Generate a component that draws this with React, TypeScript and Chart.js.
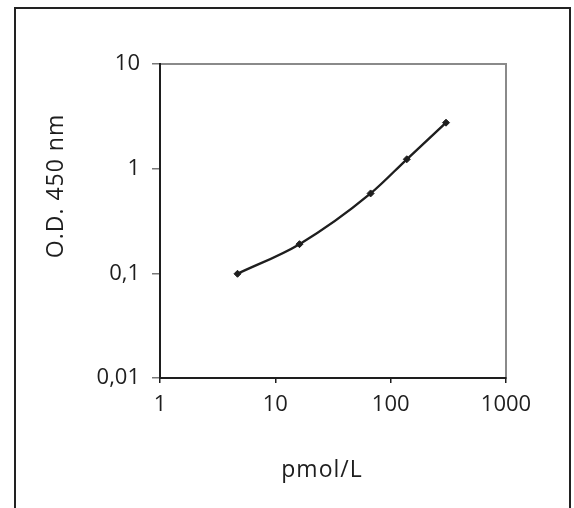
import React, { useEffect, useRef } from "react";
import { Chart, registerables } from "chart.js";

Chart.register(...registerables);

const concentrations = [4.7, 16.2, 67, 138, 302];
const odValues = [0.099, 0.19, 0.58, 1.23, 2.75];
const xTickValues = [1, 10, 100, 1000];
const xTickLabels = ["1", "10", "100", "1000"];
const yTickValues = [0.01, 0.1, 1, 10];
const yTickLabels = ["0,01", "0,1", "1", "10"];
const xTitle = "pmol/L";
const yTitle = "O.D. 450 nm";

const FONT = "'Open Sans', 'DejaVu Sans', sans-serif";
const INK = "#1e1e1e";

const framePlugin = {
  id: "framePlugin",
  beforeDraw(chart: any) {
    const { ctx, chartArea } = chart;
    ctx.save();
    ctx.strokeStyle = "#8a8a8a";
    ctx.lineWidth = 2;
    ctx.strokeRect(chartArea.left, chartArea.top, chartArea.right - chartArea.left, chartArea.bottom - chartArea.top);
    ctx.restore();
  },
  afterDraw(chart: any) {
    const { ctx } = chart;
    ctx.save();
    ctx.fillStyle = INK;
    ctx.font = `23px ${FONT}`;
    ctx.textAlign = "center";
    ctx.textBaseline = "middle";
    if ("letterSpacing" in ctx) (ctx as any).letterSpacing = "1px";
    ctx.fillText(xTitle, 322, 470);
    ctx.translate(56, 186);
    ctx.rotate(-Math.PI / 2);
    ctx.fillText(yTitle, 0, 0);
    ctx.restore();
  },
};

export default function App() {
  const ref = useRef<HTMLCanvasElement | null>(null);
  useEffect(() => {
    if (!ref.current) return;
    const chart = new Chart(ref.current, {
      type: "line",
      data: {
        datasets: [
          {
            data: concentrations.map((x, i) => ({ x, y: odValues[i] })),
            borderColor: INK,
            backgroundColor: INK,
            borderWidth: 2.4,
            pointStyle: "rectRot",
            pointRadius: 3.5,
            pointBorderWidth: 1,
            tension: 0.25,
            cubicInterpolationMode: "monotone",
          },
        ],
      },
      options: {
        responsive: false,
        animation: false,
        layout: { padding: { top: 64, right: 68, left: 0, bottom: 0 } },
        plugins: { legend: { display: false }, tooltip: { enabled: false } },
        scales: {
          x: {
            type: "logarithmic",
            min: 1,
            max: 1000,
            afterBuildTicks: (s: any) => {
              s.ticks = xTickValues.map((v) => ({ value: v }));
            },
            afterFit: (s: any) => {
              s.height = 130;
            },
            ticks: {
              autoSkip: false,
              maxRotation: 0,
              padding: 9,
              color: INK,
              font: { family: FONT, size: 22 },
              callback: (v: any) => {
                const i = xTickValues.indexOf(Number(v));
                return i >= 0 ? xTickLabels[i] : "";
              },
            },
            grid: { drawOnChartArea: false, drawTicks: true, tickLength: 5, color: INK, lineWidth: 1.5 },
            border: { display: true, color: INK, width: 2 },
          },
          y: {
            type: "logarithmic",
            min: 0.01,
            max: 10,
            afterBuildTicks: (s: any) => {
              s.ticks = yTickValues.map((v) => ({ value: v }));
            },
            afterFit: (s: any) => {
              s.width = 160;
            },
            ticks: {
              autoSkip: false,
              padding: 12,
              color: INK,
              font: { family: FONT, size: 22 },
              callback: (v: any) => {
                const i = yTickValues.findIndex((t) => Math.abs(t - Number(v)) < t * 1e-6);
                return i >= 0 ? yTickLabels[i] : "";
              },
            },
            grid: { drawOnChartArea: false, drawTicks: true, tickLength: 8, color: "#777", lineWidth: 1.5 },
            border: { display: true, color: INK, width: 2 },
          },
        },
      },
      plugins: [framePlugin],
    } as any);
    return () => chart.destroy();
  }, []);

  return (
    <div style={{ position: "fixed", left: 0, top: 0, width: 574, height: 508, overflow: "hidden", background: "#fff" }}>
      <canvas ref={ref} width={574} height={508} style={{ position: "absolute", left: 0, top: 0 }} />
      <div
        style={{
          position: "absolute",
          left: 14,
          top: 7,
          width: 557,
          height: 530,
          border: "2px solid #222",
          boxSizing: "border-box",
          pointerEvents: "none",
        }}
      />
    </div>
  );
}
